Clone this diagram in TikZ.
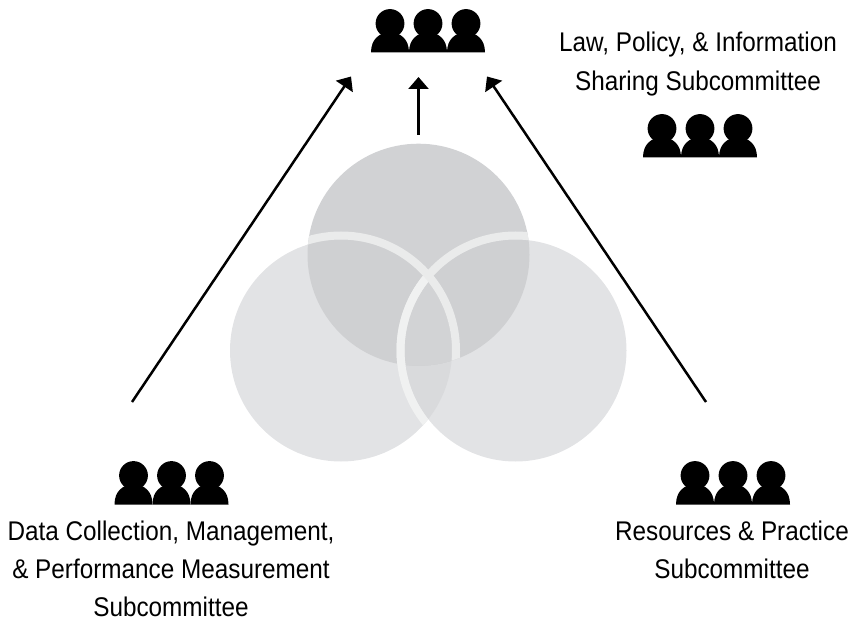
\documentclass[tikz,border=0pt]{standalone}
\usepackage{fontspec}
\setmainfont[FakeStretch=0.90]{Liberation Sans}
\usetikzlibrary{arrows.meta}
\definecolor{ctop}{HTML}{D1D2D4}
\definecolor{cside}{HTML}{E2E3E5}
\definecolor{csides}{HTML}{D9DADC}
\definecolor{ctopside}{HTML}{CFD0D2}
\definecolor{ctriple}{HTML}{D2D3D5}
\definecolor{cring}{HTML}{EAEBEB}
\definecolor{cringb}{HTML}{F0F1F1}
\tikzset{
  x=1pt,y=-1pt,
  label text/.style={font=\fontsize{27}{38}\selectfont,align=center,inner sep=0pt,text=black},
  link/.style={line width=2.5pt,-{Triangle[length=12pt,width=20pt]},shorten >=0pt},
  person/.pic={
    \fill[black] (0,-14.5) circle[radius=14.4];
    \fill[black] (-19,14.5) .. controls (-19,1.5) and (-11,-5.5) .. (0,-5.5) .. controls (11,-5.5) and (19,1.5) .. (19,14.5) -- cycle;
  },
  trio/.pic={
    \pic at (-38,0) {person};
    \pic at (0,0) {person};
    \pic at (38,0) {person};
  }
}
\begin{document}
\begin{tikzpicture}
\useasboundingbox (0,0) rectangle (853,617);
\coordinate (T) at (418.5,254.7);
\coordinate (L) at (341,350.5);
\coordinate (R) at (515.5,350.5);
\def\rad{111}
% circles
\fill[ctop] (T) circle[radius=\rad];
\fill[cside] (L) circle[radius=\rad];
\fill[cside] (R) circle[radius=\rad];
\begin{scope}
  \clip (L) circle[radius=\rad];
  \fill[csides] (R) circle[radius=\rad];
\end{scope}
\begin{scope}
  \clip (T) circle[radius=\rad];
  \fill[ctopside] (L) circle[radius=\rad];
  \fill[ctopside] (R) circle[radius=\rad];
  \clip (L) circle[radius=\rad];
  \fill[ctriple] (R) circle[radius=\rad];
\end{scope}
% rings
\begin{scope}
  \clip (T) circle[radius=\rad];
  \draw[cring,line width=8pt] (L) circle[radius=115];
\end{scope}
\begin{scope}
  \clip (T) circle[radius=\rad];
  \draw[cring,line width=8pt] (R) circle[radius=115];
\end{scope}
\begin{scope}
  \clip (L) circle[radius=\rad];
  \draw[cringb,line width=8pt] (R) circle[radius=115];
\end{scope}
% people
\pic at (428,38) {trio};
\pic at (700,143) {trio};
\pic at (171.5,490) {trio};
\pic at (733,490) {trio};
% connectors
\coordinate (leftstart) at (132,402);
\coordinate (lefthead) at (351,76.5);
\coordinate (midstart) at (418.5,135);
\coordinate (midhead) at (418.5,77);
\coordinate (rightstart) at (706,402);
\coordinate (righthead) at (487,76.5);
\draw[link] (leftstart) -- (lefthead);
\draw[link] (midstart) -- (midhead);
\draw[link] (rightstart) -- (righthead);
% labels
\node[label text,anchor=base] (law) at (698,52) {Law, Policy, \& Information};
\node[label text,anchor=base] (law2) at (698,91) {Sharing Subcommittee};
\node[label text,anchor=base] (data) at (171,540) {Data Collection, Management,};
\node[label text,anchor=base] (data2) at (171,578) {\& Performance Measurement};
\node[label text,anchor=base] (data3) at (171,616) {Subcommittee};
\node[label text,anchor=base] (res) at (732,540.5) {Resources \& Practice};
\node[label text,anchor=base] (res2) at (732,578) {Subcommittee};
\end{tikzpicture}
\end{document}
